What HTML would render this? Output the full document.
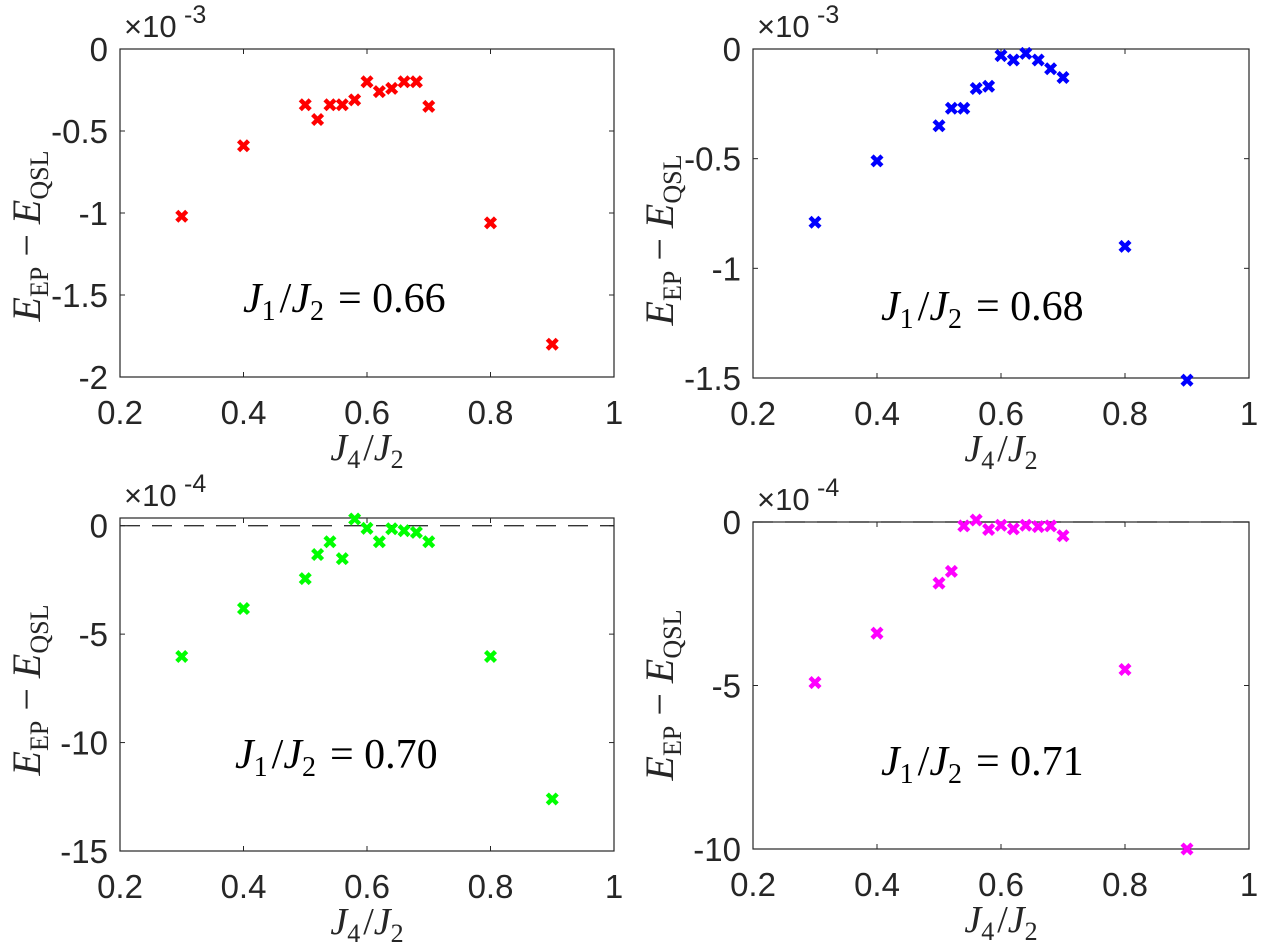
<!DOCTYPE html>
<html><head><meta charset="utf-8"><style>
html,body{margin:0;padding:0;background:#fff;}
svg{display:block;}
</style></head><body>
<svg id="fig" width="1263" height="952" xmlns="http://www.w3.org/2000/svg"></svg>
<script>
const xValues = [0.3,0.4,0.5,0.52,0.54,0.56,0.58,0.6,0.62,0.64,0.66,0.68,0.7,0.8,0.9];
const seriesA = [-1.02,-0.59,-0.34,-0.43,-0.34,-0.34,-0.31,-0.20,-0.26,-0.24,-0.20,-0.20,-0.35,-1.06,-1.80];
const seriesB = [-0.79,-0.51,-0.35,-0.27,-0.27,-0.18,-0.17,-0.03,-0.05,-0.02,-0.05,-0.09,-0.13,-0.90,-1.51];
const seriesC = [-6.03,-3.82,-2.44,-1.33,-0.74,-1.52,0.31,-0.12,-0.74,-0.14,-0.23,-0.31,-0.74,-6.03,-12.6];
const seriesD = [-4.91,-3.40,-1.87,-1.51,-0.12,0.06,-0.23,-0.10,-0.21,-0.10,-0.14,-0.12,-0.42,-4.51,-10.0];
const xTicks = [0.2,0.4,0.6,0.8,1];
const xTickLabels = ["0.2","0.4","0.6","0.8","1"];
const yTicksA = [0,-0.5,-1,-1.5,-2];
const yTickLabelsA = ["0","-0.5","-1","-1.5","-2"];
const yTicksB = [0,-0.5,-1,-1.5];
const yTickLabelsB = ["0","-0.5","-1","-1.5"];
const yTicksC = [0,-5,-10,-15];
const yTickLabelsC = ["0","-5","-10","-15"];
const yTicksD = [0,-5,-10];
const yTickLabelsD = ["0","-5","-10"];
const ratios = ["0.66","0.68","0.70","0.71"];
const exps = ["-3","-3","-4","-4"];

const NS="http://www.w3.org/2000/svg";
const svg=document.getElementById('fig');
function mk(tag,attrs,parent){const e=document.createElementNS(NS,tag);for(const k in attrs)e.setAttribute(k,attrs[k]);(parent||svg).appendChild(e);return e;}

const panels=[
 {id:'a',L:120,R:614,T:49,B:377,ymin:-2,ymax:0,data:seriesA,color:'#ff0000',yt:yTicksA,ytl:yTickLabelsA,dash:false,ann:[243,312],exp:exps[0],ratio:ratios[0],ylc:236},
 {id:'b',L:753,R:1249,T:49,B:378,ymin:-1.5,ymax:0,data:seriesB,color:'#0000ff',yt:yTicksB,ytl:yTickLabelsB,dash:false,ann:[881,320],exp:exps[1],ratio:ratios[1],ylc:240},
 {id:'c',L:120,R:614,T:518,B:851,ymin:-15,ymax:0.355,data:seriesC,color:'#00ff00',yt:yTicksC,ytl:yTickLabelsC,dash:true,ann:[235,768],exp:exps[2],ratio:ratios[2],ylc:690},
 {id:'d',L:753,R:1249,T:522,B:849,ymin:-10,ymax:0,data:seriesD,color:'#ff00ff',yt:yTicksD,ytl:yTickLabelsD,dash:true,ann:[881,775],exp:exps[3],ratio:ratios[3],ylc:695}
];
const AX='#262626';
function txt(x,y,s,anchor,size,g){
  const t=mk('text',{x:x,y:y,'text-anchor':anchor,'font-size':size,'font-family':'"Liberation Sans", sans-serif',fill:AX},g);
  t.textContent=s;return t;
}
panels.forEach((p,i)=>{
  const g=mk('g',{});
  
  
  const sx=v=>p.L+(v-0.2)/(1-0.2)*(p.R-p.L);
  const sy=v=>p.T+(p.ymax-v)/(p.ymax-p.ymin)*(p.B-p.T);
  if(p.dash){
    const dl=mk('line',{x1:p.L,x2:p.R,y1:sy(0),y2:sy(0),stroke:'#333',"stroke-width":1.3,"stroke-dasharray":"20,12"},g);
    
    
  }
  const box=mk('rect',{x:p.L,y:p.T,width:p.R-p.L,height:p.B-p.T,fill:'none',stroke:AX,'stroke-width':1.2},g);
  
  
  xTicks.forEach((v,k)=>{
    const x=sx(v);
    mk('line',{x1:x,x2:x,y1:p.B,y2:p.B-5,stroke:AX,'stroke-width':1},g);
    mk('line',{x1:x,x2:x,y1:p.T,y2:p.T+5,stroke:AX,'stroke-width':1},g);
    const t=txt(x,p.B+47,xTickLabels[k],'middle',33,g);
    
    
  });
  p.yt.forEach((v,k)=>{
    const y=sy(v);
    mk('line',{x1:p.L,x2:p.L+5,y1:y,y2:y,stroke:AX,'stroke-width':1},g);
    mk('line',{x1:p.R,x2:p.R-5,y1:y,y2:y,stroke:AX,'stroke-width':1},g);
    const t=txt(p.L-12,y+12,p.ytl[k],'end',33,g);
    
    
  });
  const ex=txt(p.L+4,p.T-12,'\u00d710','start',31,g);
  
  
  const ex2=txt(p.L+64,p.T-26,p.exp,'start',25,g);
  
  
  xValues.forEach((xv,k)=>{
    const x=sx(xv),y=sy(p.data[k]),s=3.4;
    const m=mk('path',{d:`M${x-s},${y-s}L${x+s},${y+s}M${x-s},${y+s}L${x+s},${y-s}`,stroke:p.color,'stroke-width':4.4,'stroke-linecap':'square'},g);
    
    
  });
  const serif='"Liberation Serif", serif';
  const xl=mk('text',{x:(p.L+p.R)/2,y:p.B+83,'text-anchor':'middle','font-size':38,'font-family':serif,fill:AX},g);
  
  
  xl.innerHTML='<tspan font-style="italic">J</tspan><tspan font-size="26" dy="8">4</tspan><tspan dy="-8" dx="3">/</tspan><tspan font-style="italic">J</tspan><tspan font-size="26" dy="8">2</tspan>';
  const yl=mk('text',{x:0,y:0,'text-anchor':'middle','font-size':40,'font-family':serif,fill:AX,transform:`translate(${p.L-80},${p.ylc}) rotate(-90)`},g);
  
  
  yl.innerHTML='<tspan font-style="italic">E</tspan><tspan font-size="26" dy="8">EP</tspan><tspan dy="-8"> \u2212 </tspan><tspan font-style="italic">E</tspan><tspan font-size="26" dy="8">QSL</tspan>';
  const an=mk('text',{x:p.ann[0],y:p.ann[1],'text-anchor':'start','font-size':42,'font-family':serif,fill:'#000'},g);
  
  
  an.innerHTML='<tspan font-style="italic">J</tspan><tspan font-size="28" dy="8">1</tspan><tspan dy="-8" dx="4">/</tspan><tspan font-style="italic">J</tspan><tspan font-size="28" dy="8">2</tspan><tspan dy="-8" dx="14">= '+p.ratio+'</tspan>';
});
</script>
</body></html>
